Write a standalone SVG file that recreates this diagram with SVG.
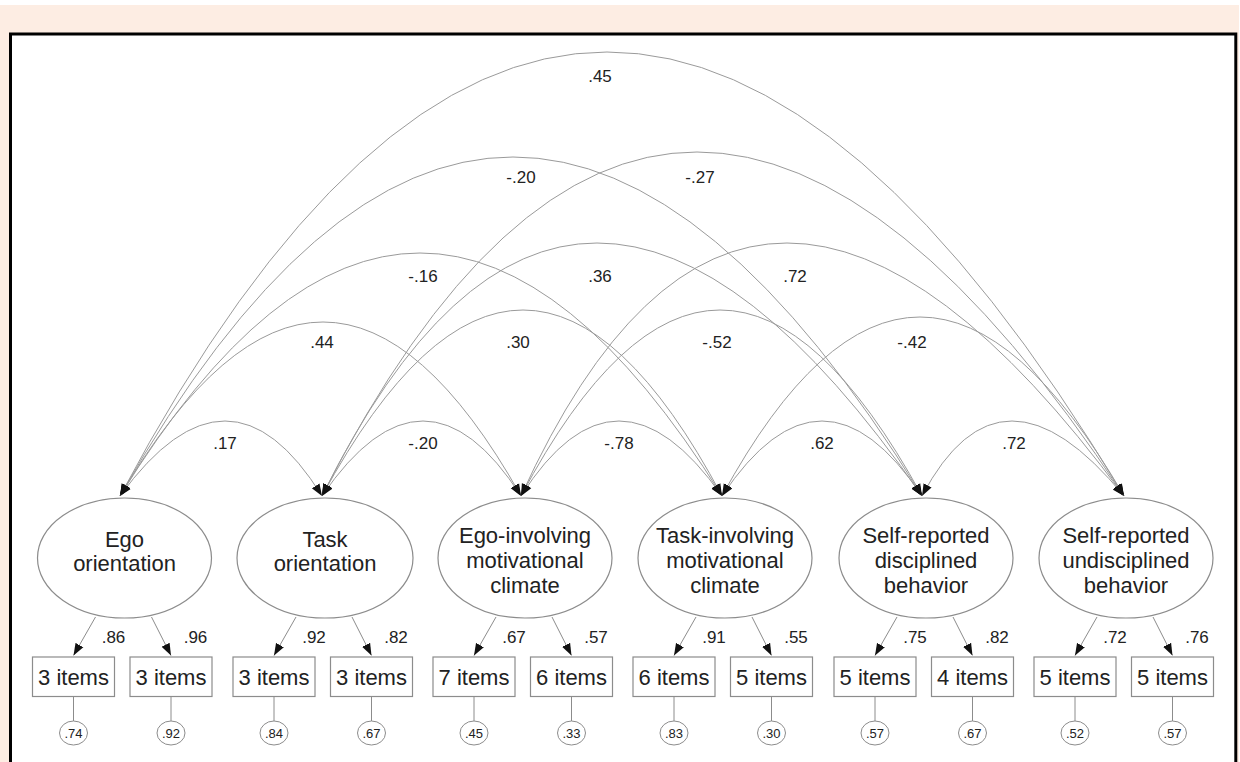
<svg xmlns="http://www.w3.org/2000/svg" width="1240" height="762" viewBox="0 0 1240 762">
<style>
text{font-family:"Liberation Sans",Arial,sans-serif;fill:#222}
.nt{font-size:22px;text-anchor:middle}
.it{font-size:22px;text-anchor:middle}
.lb{font-size:17px;text-anchor:middle}
.et{font-size:13px;text-anchor:middle}
.ell{fill:#fff;stroke:#8c8c8c;stroke-width:1.2}
.box{fill:#fff;stroke:#8c8c8c;stroke-width:1.2}
.err{fill:#fff;stroke:#8c8c8c;stroke-width:1}
.arc{fill:none;stroke:#9a9a9a;stroke-width:1;marker-start:url(#ah);marker-end:url(#ah)}
.ld{fill:none;stroke:#8c8c8c;stroke-width:1;marker-end:url(#ah)}
.el{stroke:#8c8c8c;stroke-width:1}
</style>
<defs>
<marker id="ah" viewBox="0 0 12 10" refX="12" refY="5" markerWidth="12" markerHeight="10" markerUnits="userSpaceOnUse" orient="auto-start-reverse"><path d="M0,0.5 L12,5 L0,9.5 z" fill="#111"/></marker>
</defs>
<rect x="0" y="0" width="1240" height="762" fill="#ffffff"/>
<rect x="0" y="5" width="1239" height="757" fill="#fdede3"/>
<rect x="10.5" y="34" width="1225.3" height="740" fill="#fff" stroke="#000" stroke-width="3"/>

<g id="connectors">
<path class="arc" d="M120,496 Q229,346 322,496"/>
<path class="arc" d="M322,496 Q424.5,346 521,496"/>
<path class="arc" d="M521,496 Q616.5,346 722,496"/>
<path class="arc" d="M722,496 Q822,346 922,496"/>
<path class="arc" d="M922,496 Q1001,346 1124,496"/>
<path class="arc" d="M120,496 Q325.5,148 521,496"/>
<path class="arc" d="M322,496 Q524,124 722,496"/>
<path class="arc" d="M521,496 Q718.5,124 922,496"/>
<path class="arc" d="M722,496 Q917,138 1124,496"/>
<path class="arc" d="M120,496 Q419,10 722,496"/>
<path class="arc" d="M322,496 Q572,-10 922,496"/>
<path class="arc" d="M521,496 Q751.5,-10 1124,496"/>
<path class="arc" d="M120,496 Q505,-182 922,496"/>
<path class="arc" d="M322,496 Q671,-192 1124,496"/>
<path class="arc" d="M120,496 Q592,-392 1124,496"/>

<path class="ld" d="M95.5,617 L73.5,655.5"/>
<path class="ld" d="M151.5,617 L171,655.5"/>
<path class="ld" d="M296,617 L274,655.5"/>
<path class="ld" d="M352,617 L371.5,655.5"/>
<path class="ld" d="M496,617 L474,655.5"/>
<path class="ld" d="M552,617 L571.5,655.5"/>
<path class="ld" d="M696,617 L674,655.5"/>
<path class="ld" d="M752,617 L771.5,655.5"/>
<path class="ld" d="M897,617 L875,655.5"/>
<path class="ld" d="M953,617 L972.5,655.5"/>
<path class="ld" d="M1097,617 L1075,655.5"/>
<path class="ld" d="M1153,617 L1172.5,655.5"/>

<line class="el" x1="73.5" y1="697" x2="73.5" y2="721"/>
<line class="el" x1="171" y1="697" x2="171" y2="721"/>
<line class="el" x1="274" y1="697" x2="274" y2="721"/>
<line class="el" x1="371.5" y1="697" x2="371.5" y2="721"/>
<line class="el" x1="474" y1="697" x2="474" y2="721"/>
<line class="el" x1="571.5" y1="697" x2="571.5" y2="721"/>
<line class="el" x1="674" y1="697" x2="674" y2="721"/>
<line class="el" x1="771.5" y1="697" x2="771.5" y2="721"/>
<line class="el" x1="875" y1="697" x2="875" y2="721"/>
<line class="el" x1="972.5" y1="697" x2="972.5" y2="721"/>
<line class="el" x1="1075" y1="697" x2="1075" y2="721"/>
<line class="el" x1="1172.5" y1="697" x2="1172.5" y2="721"/>
</g>

<g id="labels">
<text class="lb" x="600" y="82">.45</text>
<text class="lb" x="521" y="183">-.20</text>
<text class="lb" x="700" y="183">-.27</text>
<text class="lb" x="423" y="282">-.16</text>
<text class="lb" x="600" y="282">.36</text>
<text class="lb" x="795" y="282">.72</text>
<text class="lb" x="322" y="348">.44</text>
<text class="lb" x="518" y="348">.30</text>
<text class="lb" x="717" y="348">-.52</text>
<text class="lb" x="912" y="348">-.42</text>
<text class="lb" x="225" y="449">.17</text>
<text class="lb" x="423" y="449">-.20</text>
<text class="lb" x="619" y="449">-.78</text>
<text class="lb" x="822" y="449">.62</text>
<text class="lb" x="1014" y="449">.72</text>

<text class="lb" x="113.5" y="643">.86</text>
<text class="lb" x="195.5" y="643">.96</text>
<text class="lb" x="314" y="643">.92</text>
<text class="lb" x="396" y="643">.82</text>
<text class="lb" x="514" y="643">.67</text>
<text class="lb" x="596" y="643">.57</text>
<text class="lb" x="714" y="643">.91</text>
<text class="lb" x="796" y="643">.55</text>
<text class="lb" x="915" y="643">.75</text>
<text class="lb" x="997" y="643">.82</text>
<text class="lb" x="1115" y="643">.72</text>
<text class="lb" x="1197" y="643">.76</text>
</g>

<g id="ego-orientation">
<ellipse class="ell" cx="124.5" cy="558" rx="87" ry="60"/>
<text class="nt" x="124.5" y="547">Ego</text>
<text class="nt" x="124.5" y="571">orientation</text>
</g>
<g id="task-orientation">
<ellipse class="ell" cx="325" cy="558" rx="88" ry="60"/>
<text class="nt" x="325" y="547">Task</text>
<text class="nt" x="325" y="571">orientation</text>
</g>
<g id="ego-climate">
<ellipse class="ell" cx="525" cy="558" rx="87" ry="60"/>
<text class="nt" x="525" y="543">Ego-involving</text>
<text class="nt" x="525" y="568">motivational</text>
<text class="nt" x="525" y="593">climate</text>
</g>
<g id="task-climate">
<ellipse class="ell" cx="725" cy="558" rx="87" ry="60"/>
<text class="nt" x="725" y="543">Task-involving</text>
<text class="nt" x="725" y="568">motivational</text>
<text class="nt" x="725" y="593">climate</text>
</g>
<g id="disciplined">
<ellipse class="ell" cx="926" cy="558" rx="87" ry="60"/>
<text class="nt" x="926" y="543">Self-reported</text>
<text class="nt" x="926" y="568">disciplined</text>
<text class="nt" x="926" y="593">behavior</text>
</g>
<g id="undisciplined">
<ellipse class="ell" cx="1126" cy="558" rx="87" ry="60"/>
<text class="nt" x="1126" y="543">Self-reported</text>
<text class="nt" x="1126" y="568">undisciplined</text>
<text class="nt" x="1126" y="593">behavior</text>
</g>

<g id="ind1"><rect class="box" x="32.5" y="657" width="82" height="39.5"/><text class="it" x="73.5" y="685">3 items</text></g>
<g id="ind2"><rect class="box" x="130" y="657" width="82" height="39.5"/><text class="it" x="171" y="685">3 items</text></g>
<g id="ind3"><rect class="box" x="233" y="657" width="82" height="39.5"/><text class="it" x="274" y="685">3 items</text></g>
<g id="ind4"><rect class="box" x="330.5" y="657" width="82" height="39.5"/><text class="it" x="371.5" y="685">3 items</text></g>
<g id="ind5"><rect class="box" x="433" y="657" width="82" height="39.5"/><text class="it" x="474" y="685">7 items</text></g>
<g id="ind6"><rect class="box" x="530.5" y="657" width="82" height="39.5"/><text class="it" x="571.5" y="685">6 items</text></g>
<g id="ind7"><rect class="box" x="633" y="657" width="82" height="39.5"/><text class="it" x="674" y="685">6 items</text></g>
<g id="ind8"><rect class="box" x="730.5" y="657" width="82" height="39.5"/><text class="it" x="771.5" y="685">5 items</text></g>
<g id="ind9"><rect class="box" x="834" y="657" width="82" height="39.5"/><text class="it" x="875" y="685">5 items</text></g>
<g id="ind10"><rect class="box" x="931.5" y="657" width="82" height="39.5"/><text class="it" x="972.5" y="685">4 items</text></g>
<g id="ind11"><rect class="box" x="1034" y="657" width="82" height="39.5"/><text class="it" x="1075" y="685">5 items</text></g>
<g id="ind12"><rect class="box" x="1131.5" y="657" width="82" height="39.5"/><text class="it" x="1172.5" y="685">5 items</text></g>

<g id="err1"><ellipse class="err" cx="73.5" cy="733" rx="14" ry="12"/><text class="et" x="73.5" y="737.5">.74</text></g>
<g id="err2"><ellipse class="err" cx="171" cy="733" rx="14" ry="12"/><text class="et" x="171" y="737.5">.92</text></g>
<g id="err3"><ellipse class="err" cx="274" cy="733" rx="14" ry="12"/><text class="et" x="274" y="737.5">.84</text></g>
<g id="err4"><ellipse class="err" cx="371.5" cy="733" rx="14" ry="12"/><text class="et" x="371.5" y="737.5">.67</text></g>
<g id="err5"><ellipse class="err" cx="474" cy="733" rx="14" ry="12"/><text class="et" x="474" y="737.5">.45</text></g>
<g id="err6"><ellipse class="err" cx="571.5" cy="733" rx="14" ry="12"/><text class="et" x="571.5" y="737.5">.33</text></g>
<g id="err7"><ellipse class="err" cx="674" cy="733" rx="14" ry="12"/><text class="et" x="674" y="737.5">.83</text></g>
<g id="err8"><ellipse class="err" cx="771.5" cy="733" rx="14" ry="12"/><text class="et" x="771.5" y="737.5">.30</text></g>
<g id="err9"><ellipse class="err" cx="875" cy="733" rx="14" ry="12"/><text class="et" x="875" y="737.5">.57</text></g>
<g id="err10"><ellipse class="err" cx="972.5" cy="733" rx="14" ry="12"/><text class="et" x="972.5" y="737.5">.67</text></g>
<g id="err11"><ellipse class="err" cx="1075" cy="733" rx="14" ry="12"/><text class="et" x="1075" y="737.5">.52</text></g>
<g id="err12"><ellipse class="err" cx="1172.5" cy="733" rx="14" ry="12"/><text class="et" x="1172.5" y="737.5">.57</text></g>
</svg>
